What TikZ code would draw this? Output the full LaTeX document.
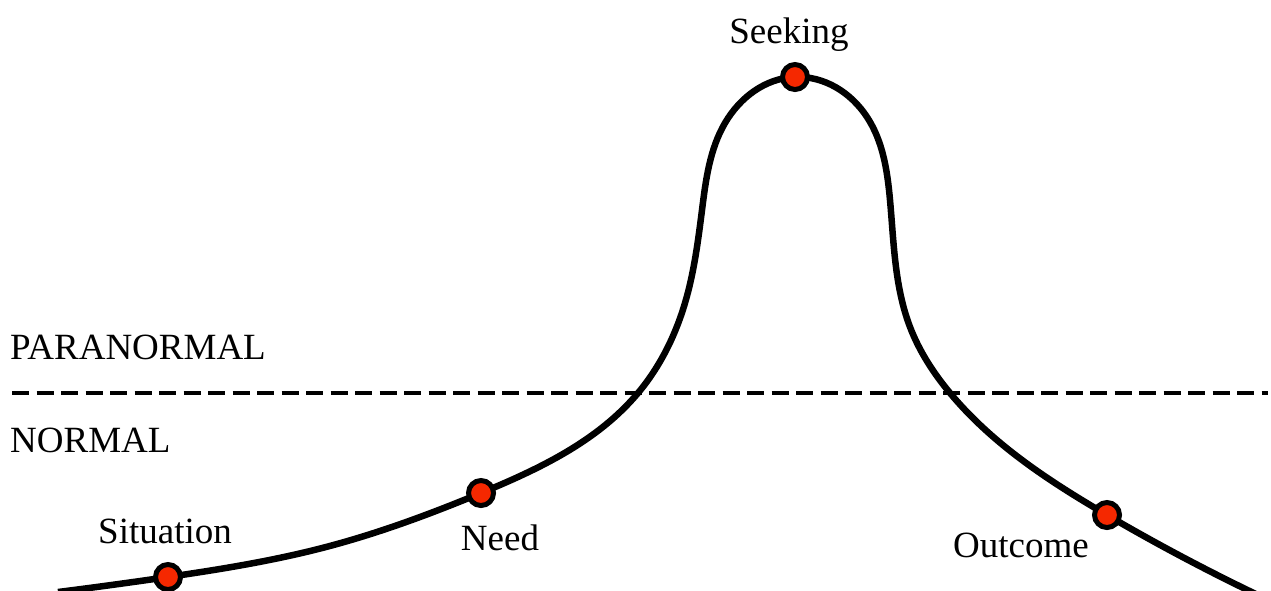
\documentclass[tikz,border=0pt]{standalone}
\usepackage{fontspec}
\setmainfont{Liberation Serif}
\usetikzlibrary{hobby}
\definecolor{dotred}{RGB}{245,40,0}
\begin{document}
\begin{tikzpicture}[x=1pt,y=-1pt,
  lbl/.style={font=\fontsize{37}{40}\selectfont, inner sep=0pt, anchor=base},
  lblleft/.style={font=\fontsize{37}{40}\selectfont, inner sep=0pt, anchor=base west},
  dot/.style={circle, draw=black, fill=dotred, line width=5pt, minimum size=25pt, inner sep=0pt},
  curveline/.style={line width=6.5pt, line join=round},
  divider/.style={line width=4.2pt, dash pattern=on 17pt off 7.5pt}]
\useasboundingbox (0,0) rectangle (1271,590);
% threshold line
\coordinate (dl) at (12,393);
\coordinate (dr) at (1268,393);
\draw[divider] (dl) -- (dr);
\node[lblleft] (para) at (10,359) {PARANORMAL};
\node[lblleft] (norm) at (10,452) {NORMAL};
% curve
\coordinate (c0) at (58,592);
\coordinate (c1) at (168,577);
\coordinate (c2) at (326,547);
\coordinate (c3) at (481,493);
\coordinate (c4) at (638,393);
\coordinate (c5) at (685,303);
\coordinate (c6) at (702,210);
\coordinate (c7) at (725,123);
\coordinate (c8) at (795,77);
\coordinate (c9) at (867,117);
\coordinate (c10) at (890,200);
\coordinate (c11) at (910,327);
\coordinate (c12) at (950,393);
\coordinate (c13) at (1107,515);
\coordinate (c14) at (1262,597);
\draw[curveline, use Hobby shortcut] (c0) .. (c1) .. (c2) .. (c3) .. (c4) .. (c5) .. (c6) .. (c7) .. (c8) .. (c9) .. (c10) .. (c11) .. (c12) .. (c13) .. (c14);
% dots
\node[dot] (situation) at (c1) {};
\node[dot] (need) at (c3) {};
\node[dot] (seeking) at (c8) {};
\node[dot] (outcome) at (c13) {};
% labels
\node[lbl] (lsit) at (165,543) {Situation};
\node[lbl] (lneed) at (500,550) {Need};
\node[lbl] (lseek) at (789,43) {Seeking};
\node[lbl] (lout) at (1021,557) {Outcome};
\end{tikzpicture}
\end{document}
